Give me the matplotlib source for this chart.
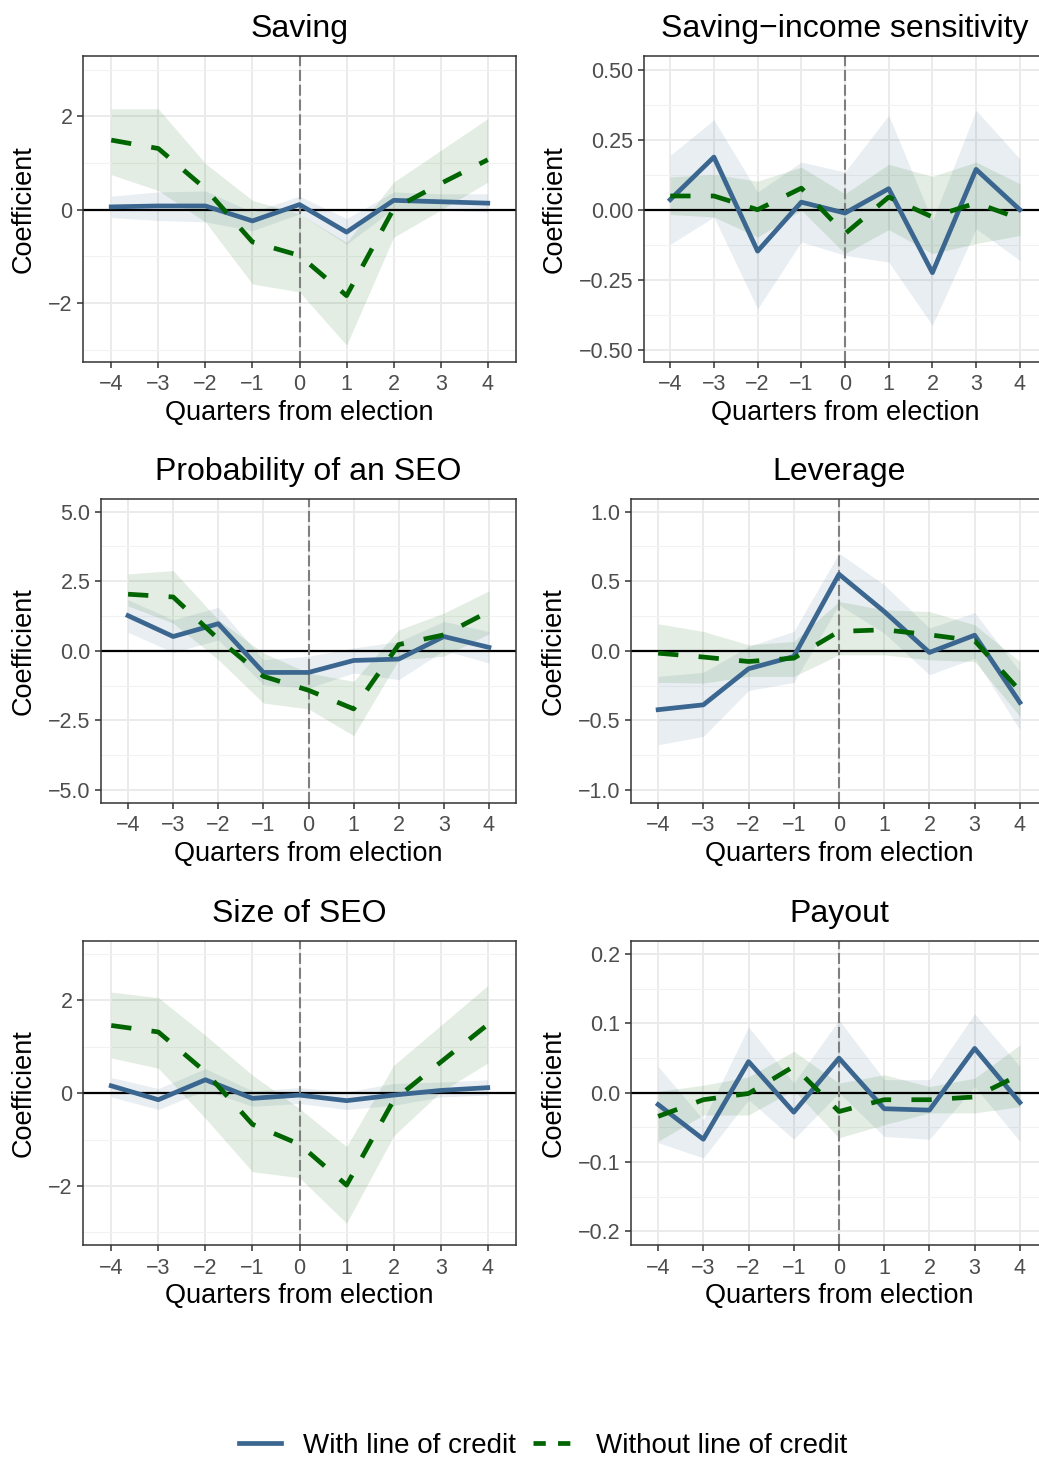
import numpy as np
import matplotlib
matplotlib.use('Agg')
import matplotlib.pyplot as plt
from matplotlib.lines import Line2D

plt.rcParams['font.family'] = ['Liberation Sans', 'DejaVu Sans']

quarters = [-4, -3, -2, -1, 0, 1, 2, 3, 4]
titles = ['Saving', 'Saving\u2212income sensitivity', 'Probability of an SEO',
          'Leverage', 'Size of SEO', 'Payout']

# with line of credit: coef, lower, upper
saving_with = [0.06, 0.08, 0.08, -0.24, 0.11, -0.48, 0.20, 0.17, 0.14]
saving_with_lo = [-0.17, -0.23, -0.26, -0.45, -0.09, -0.74, 0.02, -0.01, -0.05]
saving_with_hi = [0.29, 0.38, 0.40, -0.05, 0.29, -0.19, 0.38, 0.34, 0.34]
saving_wo = [1.49, 1.31, 0.45, -0.69, -0.98, -1.84, 0.02, 0.56, 1.07]
saving_wo_lo = [0.75, 0.41, -0.26, -1.59, -1.76, -2.90, -0.59, -0.01, 0.59]
saving_wo_hi = [2.16, 2.16, 0.99, 0.20, -0.09, -0.70, 0.59, 1.27, 1.95]

sens_with = [0.036, 0.188, -0.148, 0.027, -0.012, 0.075, -0.225, 0.144, 0.0]
sens_with_lo = [-0.124, -0.026, -0.354, -0.115, -0.163, -0.187, -0.413, -0.068, -0.181]
sens_with_hi = [0.194, 0.321, 0.063, 0.170, 0.135, 0.337, -0.040, 0.355, 0.182]
sens_wo = [0.049, 0.049, 0.0, 0.077, -0.086, 0.045, -0.026, 0.024, -0.032]
sens_wo_lo = [-0.017, -0.026, -0.098, -0.002, -0.157, -0.071, -0.157, -0.121, -0.092]
sens_wo_hi = [0.117, 0.126, 0.102, 0.152, 0.057, 0.162, 0.119, 0.170, 0.093]

prob_with = [1.26, 0.51, 0.97, -0.78, -0.78, -0.35, -0.30, 0.51, 0.12]
prob_with_lo = [0.66, -0.06, 0.39, -1.22, -1.34, -0.80, -1.04, 0.01, -0.44]
prob_with_hi = [1.83, 1.11, 1.56, -0.32, -0.20, 0.10, 0.33, 1.05, 0.69]
prob_wo = [2.03, 1.93, 0.42, -0.92, -1.42, -2.09, 0.22, 0.57, 1.41]
prob_wo_lo = [1.61, 0.99, -0.32, -1.88, -2.09, -3.05, -0.32, -0.20, 0.61]
prob_wo_hi = [2.76, 2.88, 1.11, -0.08, -0.80, -1.10, 0.75, 1.35, 2.15]

lev_with = [-0.423, -0.388, -0.129, -0.041, 0.55, 0.282, -0.012, 0.112, -0.371]
lev_with_lo = [-0.675, -0.615, -0.285, -0.227, 0.33, 0.127, -0.172, -0.053, -0.567]
lev_with_hi = [-0.184, -0.155, 0.031, 0.139, 0.701, 0.474, 0.163, 0.275, -0.148]
lev_wo = [-0.017, -0.045, -0.077, -0.053, 0.139, 0.151, 0.115, 0.072, -0.287]
lev_wo_lo = [-0.227, -0.232, -0.184, -0.184, -0.029, -0.029, -0.065, -0.077, -0.471]
lev_wo_hi = [0.194, 0.139, 0.043, 0.067, 0.354, 0.294, 0.282, 0.187, -0.077]

size_with = [0.16, -0.14, 0.29, -0.11, -0.04, -0.16, -0.04, 0.06, 0.12]
size_with_lo = [-0.08, -0.35, 0.06, -0.28, -0.22, -0.35, -0.26, -0.08, -0.04]
size_with_hi = [0.34, 0.10, 0.53, 0.05, 0.12, 0.03, 0.21, 0.24, 0.29]
size_wo = [1.46, 1.32, 0.46, -0.67, -1.10, -1.98, -0.15, 0.67, 1.48]
size_wo_lo = [0.76, 0.54, -0.54, -1.69, -1.82, -2.80, -0.92, 0.03, 0.65]
size_wo_hi = [2.18, 2.06, 1.25, 0.39, -0.33, -1.15, 0.60, 1.46, 2.32]

pay_with = [-0.017, -0.067, 0.045, -0.028, 0.050, -0.023, -0.025, 0.064, -0.014]
pay_with_lo = [-0.072, -0.094, -0.010, -0.067, 0.0, -0.063, -0.067, 0.009, -0.070]
pay_with_hi = [0.038, -0.039, 0.095, 0.014, 0.105, 0.019, 0.019, 0.114, 0.038]
pay_wo = [-0.034, -0.010, -0.001, 0.038, -0.027, -0.010, -0.010, -0.006, 0.026]
pay_wo_lo = [-0.070, -0.032, -0.032, 0.004, -0.065, -0.046, -0.029, -0.029, -0.020]
pay_wo_hi = [0.002, 0.011, 0.023, 0.060, 0.014, 0.026, 0.009, 0.021, 0.069]

panels = [
    (saving_with, saving_with_lo, saving_with_hi, saving_wo, saving_wo_lo, saving_wo_hi),
    (sens_with, sens_with_lo, sens_with_hi, sens_wo, sens_wo_lo, sens_wo_hi),
    (prob_with, prob_with_lo, prob_with_hi, prob_wo, prob_wo_lo, prob_wo_hi),
    (lev_with, lev_with_lo, lev_with_hi, lev_wo, lev_wo_lo, lev_wo_hi),
    (size_with, size_with_lo, size_with_hi, size_wo, size_wo_lo, size_wo_hi),
    (pay_with, pay_with_lo, pay_with_hi, pay_wo, pay_wo_lo, pay_wo_hi),
]

# y axis settings: limits, major ticks, label format
yticks = [[-2, 0, 2], [-0.5, -0.25, 0, 0.25, 0.5], [-5, -2.5, 0, 2.5, 5],
          [-1, -0.5, 0, 0.5, 1], [-2, 0, 2], [-0.2, -0.1, 0, 0.1, 0.2]]
yminor = [[-3, -1, 1, 3], [-0.375, -0.125, 0.125, 0.375], [-3.75, -1.25, 1.25, 3.75],
          [-0.75, -0.25, 0.25, 0.75], [-3, -1, 1, 3], [-0.15, -0.05, 0.05, 0.15]]
ylims = [(-3.26, 3.29), (-0.544, 0.549), (-5.47, 5.45), (-1.093, 1.09), (-3.27, 3.28), (-0.2196, 0.219)]
yfmt = ['{:.0f}', '{:.2f}', '{:.1f}', '{:.1f}', '{:.0f}', '{:.1f}']

# panel boxes in pixels: left, top, right, bottom
# (right column runs a little past the figure edge, as in the original)
W, H = 1039, 1461
boxes = [(83, 56, 516, 362), (644, 56, 1046, 362),
         (101, 499, 516, 803), (631, 499, 1047, 803),
         (83, 941, 516, 1245), (631, 941, 1047, 1245)]

blue = '#3A668F'
green = '#006400'

fig = plt.figure(figsize=(W / 100, H / 100), dpi=100)

for i in range(6):
    l, t, r, b = boxes[i]
    ax = fig.add_axes([l / W, 1 - b / H, (r - l) / W, (b - t) / H])
    w, wlo, whi, wo, wolo, wohi = panels[i]

    ax.fill_between(quarters, wlo, whi, color=blue, alpha=0.11, lw=0)
    ax.fill_between(quarters, wolo, wohi, color=green, alpha=0.11, lw=0)
    ax.axhline(0, color='black', lw=1.6, zorder=2)
    ax.axvline(0, color='#7F7F7F', lw=1.5, dashes=(5.3, 1.8), zorder=2)
    ax.plot(quarters, w, color=blue, lw=3.4, zorder=3)
    ax.plot(quarters, wo, color=green, lw=3.4, dashes=(4.3, 4.3), zorder=3)

    ax.set_xlim(-4.6, 4.6)
    ax.set_ylim(*ylims[i])
    ax.set_xticks(quarters)
    ax.set_xticklabels([str(q).replace('-', '\u2212') for q in quarters])
    ax.set_yticks(yticks[i])
    ax.set_yticklabels([yfmt[i].format(v).replace('-', '\u2212') for v in yticks[i]])
    ax.set_yticks(yminor[i], minor=True)

    ax.grid(True, which='major', color='#EBEBEB', lw=1.4, zorder=0)
    ax.grid(True, which='minor', axis='y', color='#F2F2F2', lw=0.8, zorder=0)
    ax.set_axisbelow(True)
    for s in ax.spines.values():
        s.set_color('#333333')
        s.set_linewidth(1.1)
    ax.tick_params(which='major', length=4.5, width=1.1, color='#333333',
                   labelsize=15.5, labelcolor='#4D4D4D', pad=3)
    ax.tick_params(axis='x', which='major', pad=4.5)
    ax.tick_params(which='minor', length=0)

    ax.set_title(titles[i], fontsize=23, pad=14)
    ax.set_xlabel('Quarters from election', fontsize=19.5, labelpad=3.5)
    ax.set_ylabel('Coefficient', fontsize=19.5, labelpad=8)

handles = [Line2D([], [], color=blue, lw=3.4),
           Line2D([], [], color=green, lw=3.4, dashes=(2.6, 2.6))]
fig.legend(handles, ['With line of credit', 'Without line of credit'],
           loc='center', bbox_to_anchor=(0.523, 1 - 1446 / H), ncol=2, frameon=False,
           fontsize=20, handlelength=1.5, columnspacing=0.6, handletextpad=0.8)

fig.savefig('out.png', dpi=100)
